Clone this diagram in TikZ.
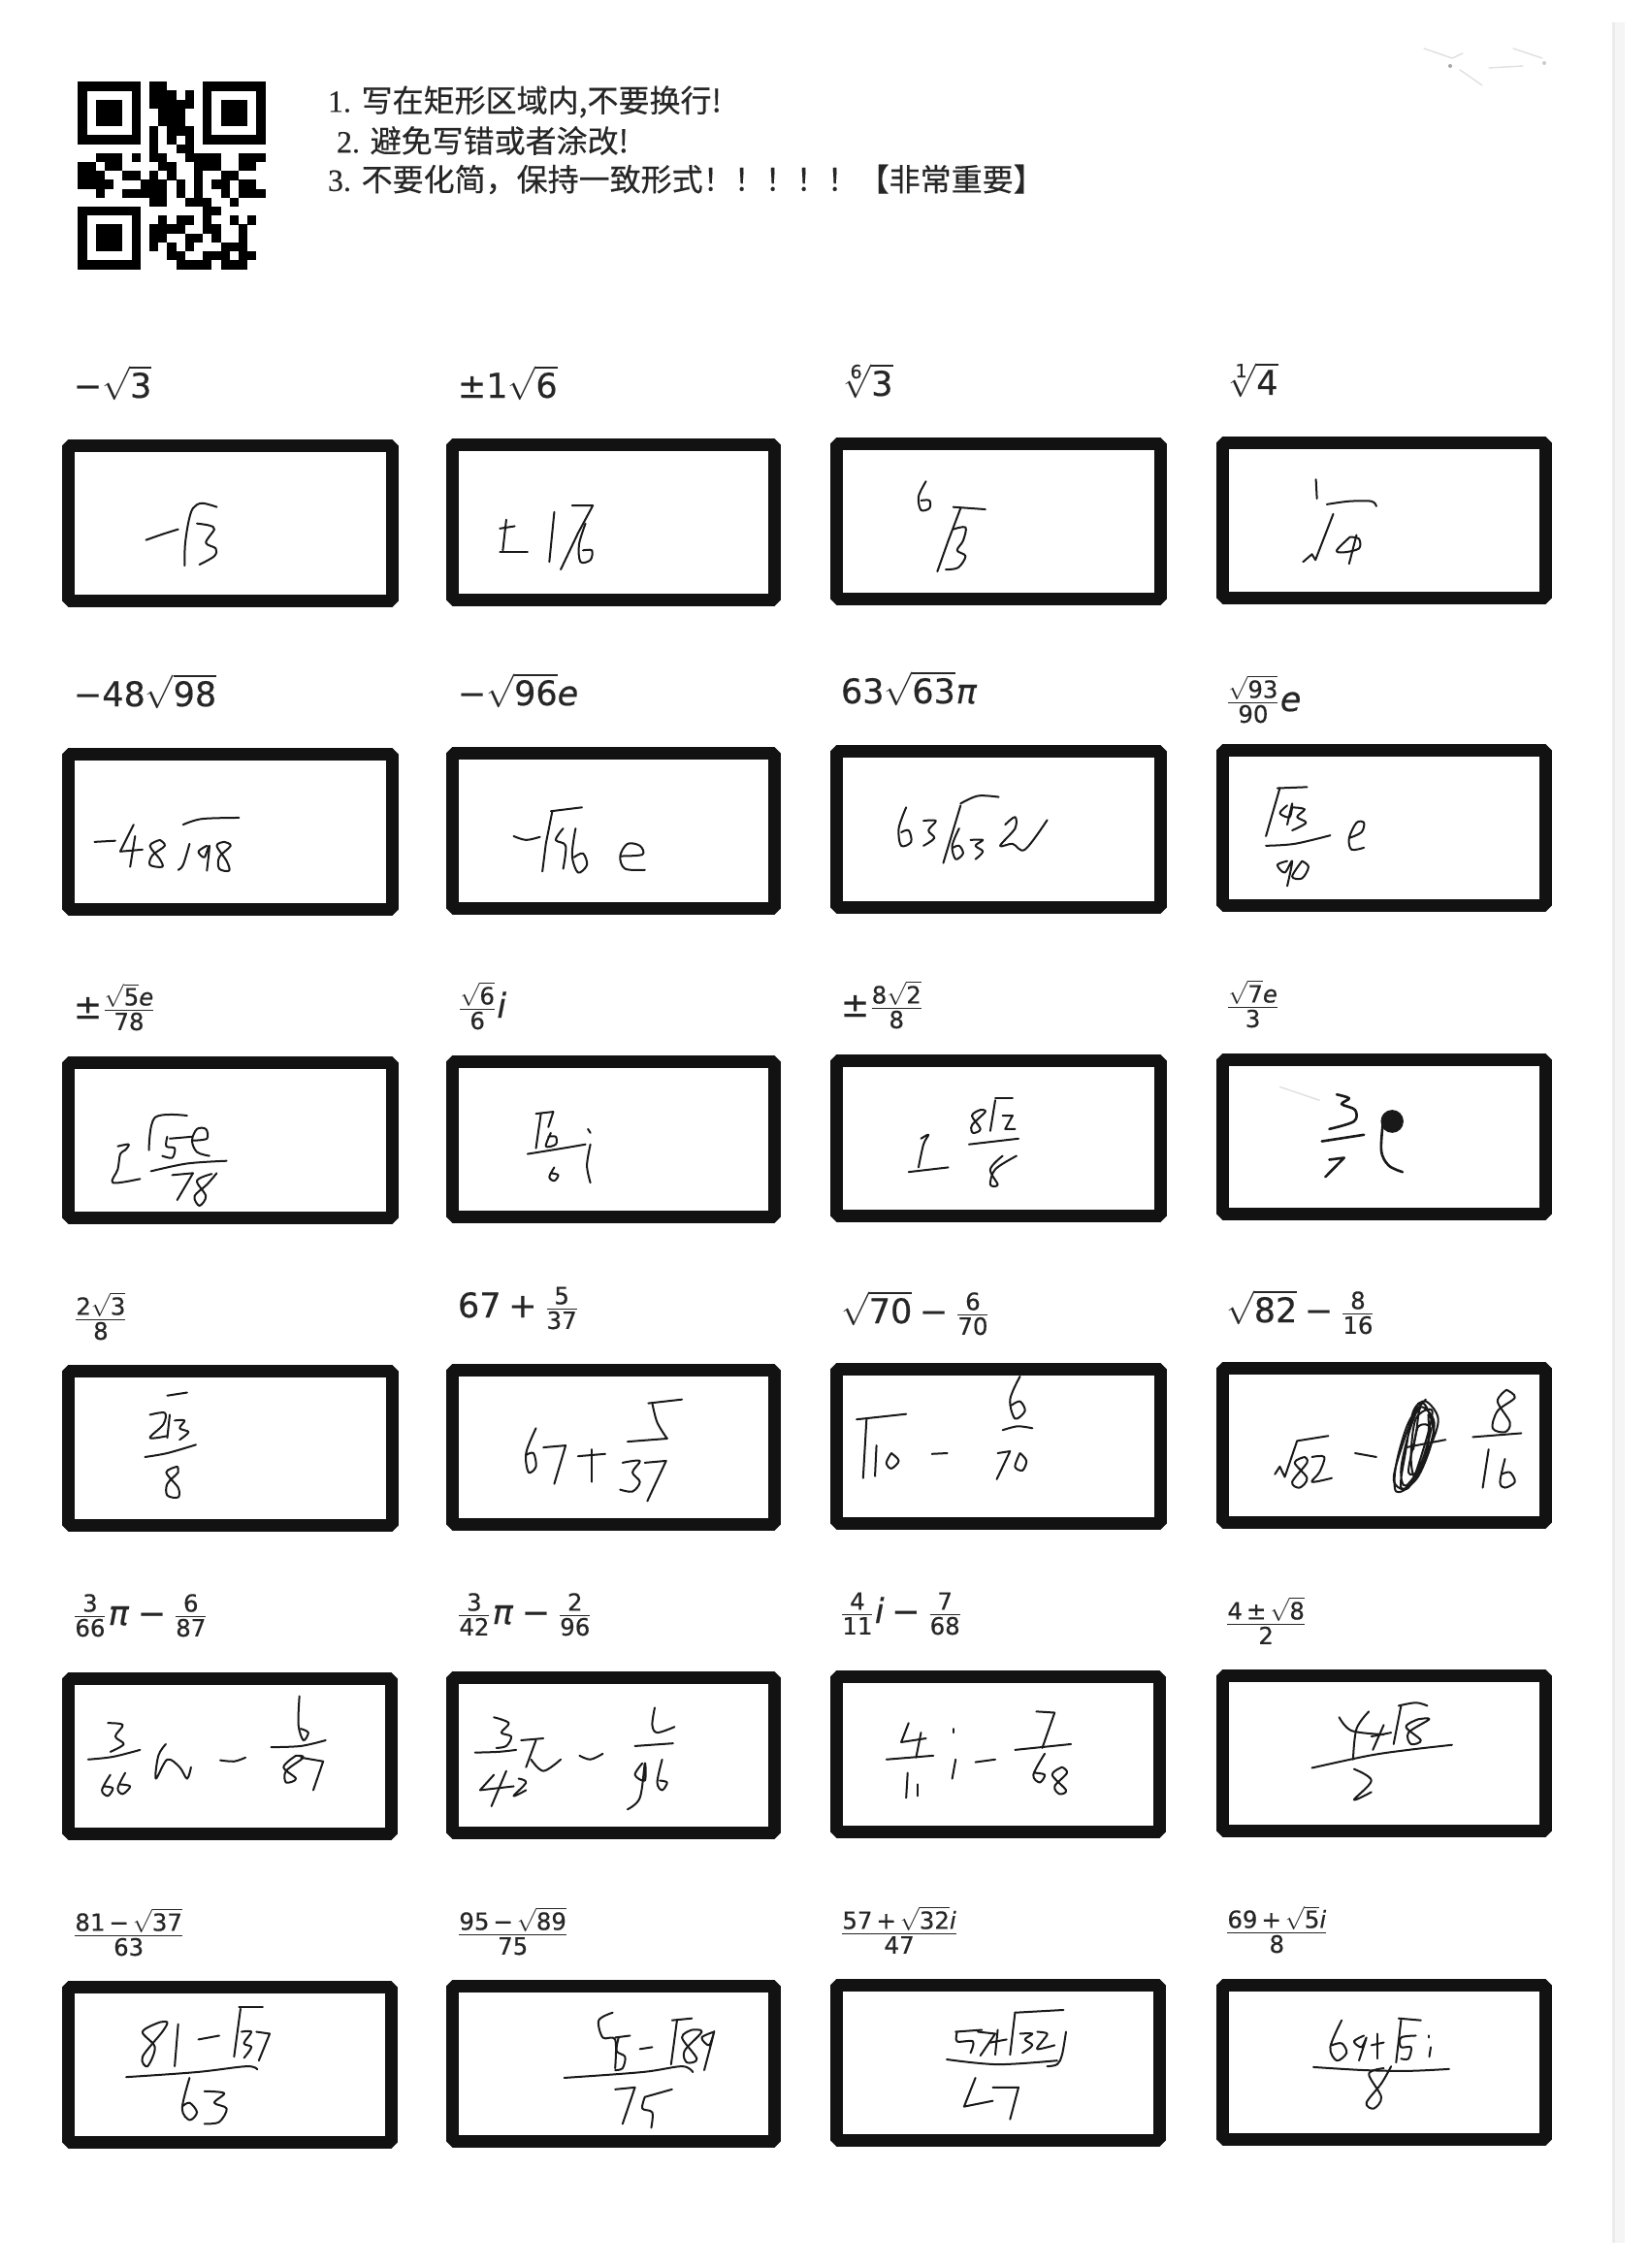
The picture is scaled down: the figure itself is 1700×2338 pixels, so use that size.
\documentclass[tikz,border=0pt]{standalone}
\usepackage{amsmath}
\usepackage{mathspec}
\setmainfont[FakeBold=0.45]{DejaVu Sans}
\setmathfont(Digits,Latin)[FakeBold=0.45]{DejaVu Sans}
\setmathfont(Greek)[FakeBold=0.45]{DejaVu Sans}
\newfontfamily\cjkfont[FakeBold=0.35]{Noto Sans CJK SC}
\newfontfamily\numfont[FakeBold=0.35]{Liberation Serif}
\DeclareMathSizes{17.5}{17.5}{12.2}{9.5}
\newcommand{\dmin}{\mathbin{\text{−}}}
\newcommand{\dplu}{\mathbin{\text{+}}}
\newcommand{\dpmn}{\mathbin{\text{±}}}
\newcommand{\umin}{\mathord{\text{−}}}
\newcommand{\upmn}{\mathord{\text{±}}}
\newcommand{\fwcomma}{\char"FF0C\relax}
\newcommand{\fwbang}{\char"FF01\relax}
\newcommand{\answerbox}[5]{% name, x0, ytop, x1, ybot
  \draw[boxline] (#2+6.5,#3+6.5) rectangle (#4-6.5,#5-6.5);
  \coordinate (#1) at (#2,#3);}
\newcommand{\penstroke}[1]{\draw[pen] plot[smooth,tension=.55] coordinates {#1};}
\newcommand{\pline}[1]{\draw[pen] plot coordinates {#1};}
\newcommand{\mlabel}[4]{\node[mathlabel] (#1) at (#2,#3) {$#4$};}
\tikzset{
  boxline/.style={line width=6.5pt,line join=bevel,draw=black!93},
  pen/.style={line width=1pt,line cap=round,line join=round,draw=black!90},
  mathlabel/.style={anchor=base west,inner sep=0pt,outer sep=0pt,font=\fontsize{17.5}{21}\selectfont,text=black!85},
  notice/.style={anchor=west,inner sep=0pt,outer sep=0pt,font=\fontsize{16}{19}\selectfont,text=black!85},
  smudge/.style={line width=0.7pt,line cap=round,draw=black!12},
  zoomA/.style={x=0.2551pt,y=-0.19771pt,shift={(25pt,-170pt)}},
  zoomB/.style={x=0.2551pt,y=-0.19771pt,shift={(425pt,-170pt)}},
  zoomC/.style={x=0.2551pt,y=-0.19771pt,shift={(25pt,-490pt)}},
  zoomD/.style={x=0.2551pt,y=-0.19771pt,shift={(425pt,-490pt)}},
  zoomE/.style={x=0.2551pt,y=-0.19771pt,shift={(25pt,-810pt)}},
  zoomF/.style={x=0.2551pt,y=-0.19771pt,shift={(425pt,-810pt)}},
}
\begin{document}
\begin{tikzpicture}[x=0.5pt,y=-0.5pt]
\useasboundingbox (0,0) rectangle (1700,2338);
\fill[white] (0,0) rectangle (1700,2338);
\fill[black!4] (1663,23) rectangle (1675,2312);
\fill[black!8] (1662,23) rectangle (1665,2312);
% Faint scan marks
\draw[smudge] (1468,50) -- (1497,60) -- (1508,55);
\draw[smudge] (1505,72) -- (1528,88);
\draw[smudge] (1560,50) -- (1590,60);
\draw[smudge] (1535,70) -- (1570,68);
\fill[black!35] (1495,68) circle (2);
\fill[black!20] (1592,65) circle (2);
% QR code
\begin{scope}[x=4.6pt,y=-4.6pt,shift={(40.15pt,-42.15pt)}]
\foreach \c/\r in {
0/0,1/0,2/0,3/0,4/0,5/0,6/0,14/0,15/0,16/0,17/0,18/0,19/0,20/0,
0/1,6/1,14/1,20/1,
0/2,2/2,3/2,4/2,6/2,14/2,16/2,17/2,18/2,20/2,
0/3,2/3,3/3,4/3,6/3,14/3,16/3,17/3,18/3,20/3,
0/4,2/4,3/4,4/4,6/4,14/4,16/4,17/4,18/4,20/4,
0/5,6/5,14/5,20/5,
0/6,1/6,2/6,3/6,4/6,5/6,6/6,14/6,15/6,16/6,17/6,18/6,19/6,20/6,
0/14,1/14,2/14,3/14,4/14,5/14,6/14,
0/15,6/15,0/16,2/16,3/16,4/16,6/16,0/17,2/17,3/17,4/17,6/17,0/18,2/18,3/18,4/18,6/18,0/19,6/19,
0/20,1/20,2/20,3/20,4/20,5/20,6/20,
8/0,9/0,8/1,9/1,10/1,12/1,8/2,9/2,10/2,11/2,12/2,9/3,10/3,11/3,9/4,10/4,11/4,
8/5,10/5,11/5,12/5,8/6,10/6,12/6,8/7,11/7,12/7,
2/8,3/8,4/8,6/8,8/8,9/8,12/8,13/8,14/8,15/8,18/8,19/8,20/8,
0/9,1/9,3/9,4/9,9/9,10/9,13/9,14/9,15/9,18/9,19/9,
0/10,1/10,2/10,5/10,6/10,8/10,10/10,13/10,16/10,17/10,
0/11,1/11,2/11,3/11,7/11,8/11,9/11,11/11,13/11,15/11,16/11,18/11,19/11,
2/12,5/12,6/12,7/12,8/12,9/12,11/12,13/12,16/12,18/12,19/12,20/12,
8/13,9/13,12/13,13/13,14/13,17/13,
14/14,15/14,
9/15,11/15,12/15,14/15,17/15,19/15,
8/16,9/16,10/16,11/16,14/16,15/16,18/16,
8/17,9/17,12/17,13/17,15/17,18/17,
8/18,10/18,12/18,16/18,17/18,18/18,
10/19,11/19,14/19,15/19,16/19,18/19,19/19,
11/20,12/20,13/20,14/20,16/20,17/20,18/20}
  {\fill[black] (\c,\r) rectangle +(1.02,1.02);}
\end{scope}
% Notice text
\node[notice] (n1) at (338,105) {\numfont 1. \cjkfont 写在矩形区域内,不要换行!};
\node[notice] (n2) at (347,145) {\numfont 2. \cjkfont 避免写错或者涂改!};
\node[notice] (n3) at (338,185) {\numfont 3. \cjkfont 不要化简\fwcomma 保持一致形式\fwbang\fwbang\fwbang\fwbang\fwbang【非常重要】};
% Answer boxes
\answerbox{b11}{64}{453}{411}{626}
\answerbox{b12}{460}{452}{805}{625}
\answerbox{b13}{856}{451}{1203}{624}
\answerbox{b14}{1254}{450}{1600}{623}
\answerbox{b21}{64}{771}{411}{944}
\answerbox{b22}{460}{770}{805}{943}
\answerbox{b23}{856}{768}{1203}{942}
\answerbox{b24}{1254}{767}{1600}{940}
\answerbox{b31}{64}{1089}{411}{1262}
\answerbox{b32}{460}{1088}{805}{1261}
\answerbox{b33}{856}{1087}{1203}{1260}
\answerbox{b34}{1254}{1086}{1600}{1258}
\answerbox{b41}{64}{1407}{411}{1579}
\answerbox{b42}{460}{1406}{805}{1578}
\answerbox{b43}{856}{1405}{1203}{1577}
\answerbox{b44}{1254}{1404}{1600}{1576}
\answerbox{b51}{64}{1724}{410}{1897}
\answerbox{b52}{460}{1723}{805}{1896}
\answerbox{b53}{856}{1722}{1202}{1895}
\answerbox{b54}{1254}{1721}{1600}{1894}
\answerbox{b61}{64}{2042}{410}{2215}
\answerbox{b62}{460}{2041}{805}{2214}
\answerbox{b63}{856}{2040}{1202}{2213}
\answerbox{b64}{1254}{2040}{1600}{2212}
% Printed expressions
\mlabel{l11}{76}{410}{\umin\sqrt{3}}
\mlabel{l12}{472}{410}{\upmn 1\sqrt{6}}
\mlabel{l13}{867}{408}{\sqrt[6]{3}}
\mlabel{l14}{1264}{407}{\sqrt[1]{4}}
\mlabel{l21}{76}{728}{\umin 48\sqrt{98}}
\mlabel{l22}{472}{727}{\umin\sqrt{96}e}
\mlabel{l23}{867}{725}{63\sqrt{63}\pi}
\mlabel{l24}{1264}{733}{\frac{\sqrt{93}}{90}e}
\mlabel{l31}{76}{1050}{\upmn\frac{\sqrt{5}e}{78}}
\mlabel{l32}{472}{1049}{\frac{\sqrt{6}}{6}i}
\mlabel{l33}{867}{1048}{\upmn\frac{8\sqrt{2}}{8}}
\mlabel{l34}{1264}{1047}{\frac{\sqrt{7}e}{3}}
\mlabel{l41}{76}{1369}{\frac{2\sqrt{3}}{8}}
\mlabel{l42}{472}{1358}{67\dplu\frac{5}{37}}
\mlabel{l43}{867}{1364}{\sqrt{70}\dmin\frac{6}{70}}
\mlabel{l44}{1264}{1363}{\sqrt{82}\dmin\frac{8}{16}}
\mlabel{l51}{75}{1675}{\frac{3}{66}\pi\dmin\frac{6}{87}}
\mlabel{l52}{471}{1674}{\frac{3}{42}\pi\dmin\frac{2}{96}}
\mlabel{l53}{866}{1673}{\frac{4}{11}i\dmin\frac{7}{68}}
\mlabel{l54}{1263}{1683}{\frac{4\,\dpmn\,\sqrt{8}}{2}}
\mlabel{l61}{75}{2004}{\frac{81\,\dmin\,\sqrt{37}}{63}}
\mlabel{l62}{471}{2003}{\frac{95\,\dmin\,\sqrt{89}}{75}}
\mlabel{l63}{866}{2002}{\frac{57\,\dplu\,\sqrt{32}i}{47}}
\mlabel{l64}{1263}{2001}{\frac{69\,\dplu\,\sqrt{5}i}{8}}
% Handwriting, columns 1-2, rows 1-2
\begin{scope}[zoomA]
\penstroke{(197,548)(230,533)(262,520)}
\penstroke{(275,615)(276,560)(283,500)(292,465)(310,452)(340,462)}
\penstroke{(300,505)(325,510)(335,520)(318,555)(338,570)(335,590)(305,612)}
\pline{(925,495)(918,575)}
\pline{(912,578)(968,578)}
\pline{(912,518)(942,512)}
\pline{(1022,475)(1012,605)}
\pline{(1058,458)(1100,458)(1070,530)(1035,625)}
\penstroke{(1085,505)(1072,560)(1075,605)(1095,600)(1098,575)(1080,575)}
\pline{(93,1335)(135,1332)}
\pline{(172,1290)(145,1360)(190,1355)}
\pline{(175,1320)(165,1400)}
\penstroke{(225,1330)(205,1345)(225,1380)(230,1400)(205,1395)(210,1370)(235,1345)(225,1330)}
\penstroke{(272,1290)(310,1275)(385,1272)}
\penstroke{(262,1408)(272,1395)(285,1340)}
\penstroke{(320,1345)(303,1360)(315,1375)(325,1345)(320,1410)}
\penstroke{(355,1335)(340,1345)(360,1385)(365,1410)(345,1405)(345,1375)(368,1345)(355,1335)}
\penstroke{(940,1320)(965,1330)(993,1322)}
\pline{(1015,1255)(1078,1245)}
\pline{(1018,1255)(1005,1340)(998,1412)}
\penstroke{(1040,1300)(1025,1330)(1045,1345)(1040,1405)}
\penstroke{(1065,1300)(1058,1370)(1070,1415)(1088,1395)(1080,1365)(1062,1375)}
\penstroke{(1155,1372)(1200,1368)(1195,1345)(1170,1340)(1155,1372)(1165,1405)(1205,1408)}
\end{scope}
% Handwriting, columns 3-4, rows 1-2
\begin{scope}[zoomB]
\penstroke{(205,395)(190,435)(195,470)(212,465)(212,445)(195,445)}
\pline{(260,462)(325,468)}
\pline{(275,465)(250,550)(228,630)}
\penstroke{(260,520)(285,515)(280,550)(268,575)(285,590)(270,620)(245,625)}
\pline{(993,390)(995,440)}
\penstroke{(1015,455)(1060,447)(1105,447)(1115,460)}
\pline{(967,605)(985,585)(992,600)(1028,480)}
\penstroke{(1062,540)(1035,575)(1050,580)(1080,570)(1080,545)(1062,540)}
\pline{(1075,535)(1060,610)}
\penstroke{(165,1245)(150,1300)(155,1345)(175,1335)(170,1305)(155,1310)}
\penstroke{(200,1280)(225,1280)(210,1305)(222,1325)(200,1345)}
\pline{(275,1240)(240,1390)}
\penstroke{(275,1235)(310,1215)(352,1218)}
\penstroke{(272,1300)(258,1345)(265,1380)(280,1365)(272,1345)(260,1350)}
\penstroke{(295,1330)(320,1330)(305,1345)(320,1360)(305,1380)}
\penstroke{(365,1290)(385,1270)(385,1300)(355,1345)(380,1340)(405,1355)(450,1278)}
\pline{(915,1195)(975,1192)}
\pline{(920,1195)(892,1320)}
\penstroke{(935,1240)(920,1260)(940,1270)(945,1235)(935,1290)}
\penstroke{(945,1245)(970,1250)(955,1270)(973,1285)(945,1305)}
\penstroke{(892,1345)(950,1340)(1022,1318)}
\penstroke{(935,1385)(915,1395)(930,1415)(945,1385)(935,1450)}
\penstroke{(965,1385)(945,1425)(965,1430)(978,1400)(965,1385)}
\penstroke{(1060,1325)(1085,1310)(1090,1285)(1075,1285)(1060,1325)(1065,1355)(1090,1350)}
\end{scope}
% Handwriting, columns 1-2, rows 3-4
\begin{scope}[zoomC]
\penstroke{(140,510)(162,505)(155,520)(145,530)(140,570)(130,605)(185,595)}
\penstroke{(203,520)(215,435)(280,430)}
\penstroke{(240,485)(238,510)(255,515)(250,540)(230,535)}
\pline{(245,490)(290,485)}
\penstroke{(290,495)(320,490)(318,465)(300,465)(290,495)(300,525)(325,535)}
\penstroke{(207,575)(280,555)(360,548)}
\pline{(250,585)(292,580)(260,650)}
\penstroke{(330,582)(300,600)(318,640)(305,665)(295,640)(320,610)(340,580)}
\pline{(985,425)(1020,420)}
\pline{(995,425)(985,515)}
\pline{(1020,420)(1010,460)}
\penstroke{(1015,475)(1005,510)(1025,505)(1025,485)(1010,485)}
\penstroke{(968,530)(1040,515)(1085,505)}
\penstroke{(1022,565)(1012,590)(1022,600)(1030,585)(1015,580)}
\pline{(1090,465)(1095,475)}
\penstroke{(1095,505)(1088,560)(1095,605)}
\pline{(240,1160)(280,1152)}
\penstroke{(205,1210)(235,1205)(232,1235)(205,1270)(240,1265)}
\pline{(245,1210)(240,1270)}
\penstroke{(255,1225)(275,1225)(265,1245)(283,1255)(265,1275)}
\penstroke{(195,1320)(240,1310)(298,1288)}
\penstroke{(260,1345)(238,1360)(262,1400)(262,1425)(240,1420)(240,1390)(262,1360)(260,1345)}
\penstroke{(985,1245)(965,1310)(970,1360)(985,1345)(980,1310)(965,1315)}
\pline{(1000,1295)(1045,1290)(1022,1390)}
\pline{(1070,1318)(1125,1312)}
\pline{(1098,1300)(1098,1385)}
\pline{(1212,1180)(1280,1170)}
\penstroke{(1220,1180)(1230,1230)(1250,1272)}
\pline{(1170,1280)(1250,1272)}
\penstroke{(1160,1335)(1195,1330)(1180,1360)(1195,1385)(1180,1410)(1155,1405)}
\pline{(1205,1335)(1248,1330)(1210,1435)}
\end{scope}
% Handwriting, columns 3-4, rows 3-4
\begin{scope}[zoomD]
\penstroke{(195,490)(210,480)(200,505)(190,565)}
\pline{(170,577)(250,565)}
\penstroke{(315,415)(298,430)(315,465)(300,475)(298,455)(325,420)(315,415)}
\pline{(345,385)(380,385)}
\pline{(345,390)(335,470)}
\pline{(360,430)(380,430)(365,465)(385,465)}
\pline{(292,505)(392,490)}
\penstroke{(360,535)(335,570)(350,610)(335,610)(345,570)(388,535)}
\draw[smudge] (920,355) -- (1000,390);
\begin{scope}[pen/.append style={line width=1.3pt}]
\penstroke{(1035,375)(1060,385)(1045,400)(1072,415)(1070,445)(1020,465)}
\pline{(1005,497)(1090,480)}
\pline{(1020,545)(1050,540)(1012,590)}
\penstroke{(1130,430)(1125,520)(1140,560)(1168,577)}
\end{scope}
\fill[black!90] (1147,445) ellipse [x radius=23,y radius=30];
\pline{(65,1222)(165,1208)}
\pline{(85,1220)(78,1375)}
\pline{(105,1290)(102,1370)}
\penstroke{(135,1310)(125,1335)(135,1350)(150,1330)(135,1310)}
\pline{(217,1312)(248,1310)}
\penstroke{(395,1110)(375,1170)(385,1220)(405,1200)(395,1175)(378,1185)}
\penstroke{(360,1250)(390,1240)(420,1245)}
\pline{(350,1310)(375,1305)(348,1378)}
\penstroke{(395,1310)(385,1345)(400,1355)(408,1330)(395,1310)}
\pline{(910,1365)(920,1345)(930,1372)(955,1278)(1018,1265)}
\penstroke{(970,1320)(950,1335)(975,1375)(960,1400)(945,1385)(975,1335)(970,1320)}
\penstroke{(985,1320)(1010,1320)(1000,1360)(985,1385)(1025,1375)}
\pline{(1072,1310)(1115,1320)}
\penstroke{(1215,1170)(1180,1230)(1155,1340)(1155,1410)(1190,1385)(1225,1290)(1240,1220)(1215,1175)(1190,1200)(1175,1300)(1165,1400)(1200,1370)(1230,1260)(1210,1180)(1185,1240)(1165,1350)(1175,1395)(1215,1320)(1232,1230)(1205,1190)(1195,1260)(1180,1360)(1205,1350)(1220,1280)(1220,1210)}
\penstroke{(1200,1180)(1170,1280)(1150,1380)(1180,1400)(1210,1300)(1228,1200)(1195,1220)(1185,1320)(1195,1370)(1225,1250)(1200,1240)(1190,1300)}
\pline{(1175,1295)(1255,1275)}
\penstroke{(1378,1145)(1360,1175)(1385,1230)(1375,1255)(1350,1245)(1360,1200)(1395,1165)(1378,1145)}
\pline{(1310,1268)(1408,1258)}
\pline{(1342,1300)(1330,1400)}
\penstroke{(1375,1325)(1365,1385)(1375,1400)(1395,1385)(1385,1360)(1368,1365)}
\end{scope}
% Handwriting, columns 1-2, rows 5-6
\begin{scope}[zoomE]
\penstroke{(120,395)(150,400)(135,430)(152,450)(125,470)}
\penstroke{(80,490)(130,483)(185,465)}
\penstroke{(125,530)(108,570)(120,585)(130,565)(112,560)}
\penstroke{(155,525)(140,565)(150,580)(165,560)(145,555)}
\penstroke{(237,450)(222,480)(217,540)(240,490)(265,510)(280,540)(288,510)}
\penstroke{(347,492)(375,495)(398,485)}
\penstroke{(507,325)(505,400)(515,440)(525,420)(510,410)}
\penstroke{(450,458)(510,455)(560,440)}
\penstroke{(500,480)(475,510)(500,540)(480,550)(480,520)(515,485)(500,480)}
\pline{(510,485)(555,495)(535,570)}
\penstroke{(900,380)(930,395)(915,420)(935,430)(925,455)(905,460)}
\penstroke{(862,472)(910,470)(945,465)}
\pline{(900,530)(872,570)(940,560)}
\pline{(925,520)(895,612)}
\penstroke{(950,540)(965,550)(940,585)(965,570)}
\pline{(955,440)(1000,435)}
\pline{(985,440)(965,510)}
\penstroke{(975,490)(1000,520)(1035,490)}
\penstroke{(1073,480)(1095,490)(1120,475)}
\penstroke{(1225,355)(1220,400)(1230,420)(1265,405)}
\pline{(1185,455)(1262,448)}
\penstroke{(1200,500)(1185,530)(1205,545)(1205,500)(1195,590)(1170,620)}
\penstroke{(1240,490)(1230,550)(1240,570)(1250,550)(1235,545)}
\penstroke{(225,1175)(190,1200)(215,1240)(200,1290)(190,1265)(230,1200)(240,1175)(225,1175)}
\pline{(262,1180)(255,1290)}
\pline{(303,1220)(345,1210)}
\pline{(385,1135)(433,1135)}
\pline{(388,1140)(375,1265)}
\penstroke{(390,1200)(410,1200)(395,1230)(410,1240)(395,1268)}
\pline{(420,1200)(447,1205)(425,1275)}
\penstroke{(157,1318)(300,1305)(400,1290)(422,1298)}
\penstroke{(285,1320)(270,1400)(285,1430)(300,1410)(285,1385)(270,1395)}
\penstroke{(315,1355)(355,1360)(335,1385)(360,1400)(345,1435)(315,1440)}
\penstroke{(1140,1150)(1112,1170)(1120,1215)(1145,1220)(1145,1295)}
\pline{(1145,1215)(1175,1210)}
\penstroke{(1152,1215)(1148,1250)(1165,1265)(1160,1295)(1145,1300)}
\pline{(1195,1245)(1220,1240)}
\pline{(1260,1170)(1300,1165)}
\pline{(1270,1170)(1258,1285)}
\penstroke{(1300,1195)(1280,1215)(1310,1270)(1290,1280)(1285,1250)(1320,1200)(1300,1195)}
\penstroke{(1345,1200)(1320,1215)(1335,1235)(1345,1200)(1325,1300)}
\penstroke{(1042,1320)(1200,1305)(1280,1290)(1302,1305)}
\pline{(1145,1350)(1185,1345)(1160,1440)}
\pline{(1260,1350)(1205,1370)}
\penstroke{(1205,1370)(1200,1400)(1220,1410)(1218,1450)}
\end{scope}
% Handwriting, columns 3-4, rows 5-6
\begin{scope}[zoomF]
\pline{(170,395)(155,445)(205,435)}
\pline{(195,420)(185,485)}
\pline{(125,490)(220,480)}
\pline{(168,525)(165,590)}
\pline{(188,555)(188,585)}
\pline{(260,410)(260,420)}
\pline{(265,490)(258,540)}
\pline{(305,497)(345,490)}
\pline{(428,365)(465,368)(440,460)}
\pline{(385,465)(498,450)}
\penstroke{(445,475)(422,530)(435,550)(445,530)(425,525)}
\penstroke{(480,510)(460,530)(488,570)(475,580)(465,560)(490,525)(480,510)}
\penstroke{(1040,380)(1065,415)(1130,425)}
\penstroke{(1100,365)(1075,410)(1068,490)}
\pline{(1130,400)(1108,465)}
\pline{(1105,430)(1145,420)}
\penstroke{(1160,350)(1195,342)(1218,350)}
\pline{(1165,350)(1150,450)}
\penstroke{(1200,385)(1175,405)(1205,440)(1185,450)(1180,420)(1222,385)(1200,385)}
\penstroke{(985,512)(1100,480)(1180,465)(1268,452)}
\penstroke{(1070,515)(1105,545)(1070,595)(1105,575)}
\pline{(318,1195)(265,1200)}
\penstroke{(268,1200)(268,1225)(300,1225)(295,1255)}
\pline{(310,1200)(345,1205)(315,1262)}
\pline{(335,1228)(368,1220)}
\pline{(350,1195)(345,1260)}
\pline{(385,1150)(483,1143)}
\pline{(385,1150)(375,1260)}
\penstroke{(395,1205)(420,1205)(405,1220)(420,1235)(400,1255)}
\penstroke{(430,1200)(450,1205)(440,1225)(430,1245)(465,1235)}
\penstroke{(488,1200)(480,1260)(470,1285)(450,1290)}
\penstroke{(247,1272)(350,1285)(470,1275)}
\pline{(305,1320)(282,1395)(340,1380)}
\pline{(340,1345)(392,1345)(375,1428)}
\penstroke{(1045,1170)(1022,1240)(1035,1275)(1055,1255)(1045,1230)(1025,1235)}
\penstroke{(1090,1210)(1070,1225)(1085,1240)(1095,1215)(1080,1275)}
\pline{(1105,1235)(1130,1228)}
\pline{(1118,1205)(1118,1270)}
\pline{(1160,1165)(1205,1170)}
\pline{(1165,1170)(1155,1280)}
\penstroke{(1195,1210)(1165,1215)(1165,1240)(1185,1240)(1180,1270)(1165,1270)}
\pline{(1222,1210)(1222,1215)}
\pline{(1225,1240)(1222,1265)}
\penstroke{(988,1292)(1090,1300)(1180,1302)(1262,1297)}
\penstroke{(1130,1295)(1100,1310)(1125,1370)(1110,1400)(1095,1385)(1125,1335)(1145,1290)}
\end{scope}
\end{tikzpicture}
\end{document}
